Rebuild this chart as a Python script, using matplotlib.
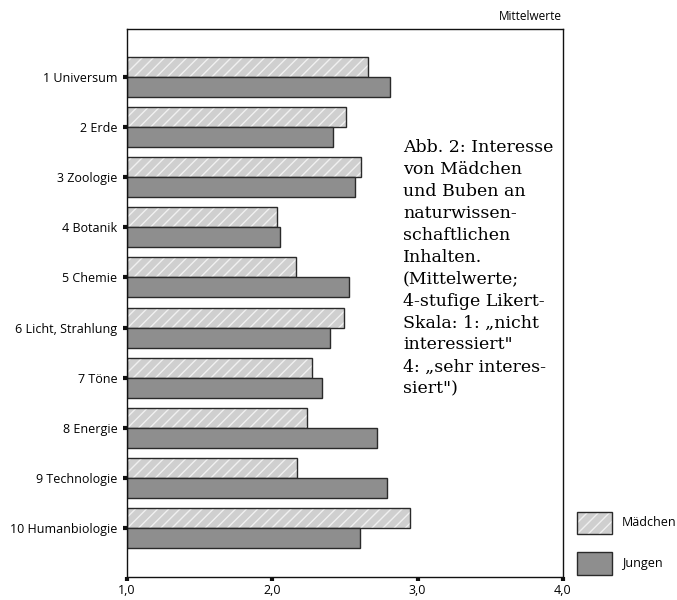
import matplotlib.pyplot as plt
from matplotlib.patches import Rectangle

# ── Data ────────────────────────────────────────────────
categories = ["1 Universum", "2 Erde", "3 Zoologie", "4 Botanik", "5 Chemie",
              "6 Licht, Strahlung", "7 Töne", "8 Energie", "9 Technologie",
              "10 Humanbiologie"]
maedchen = [2.66, 2.51, 2.61, 2.03, 2.16, 2.49, 2.27, 2.24, 2.17, 2.95]
jungen   = [2.81, 2.42, 2.57, 2.05, 2.53, 2.40, 2.34, 2.72, 2.79, 2.60]
xticks = [1.0, 2.0, 3.0, 4.0]
xticklabels = ["1,0", "2,0", "3,0", "4,0"]
legend_labels = ["Mädchen", "Jungen"]

caption = ("Abb. 2: Interesse\nvon Mädchen\nund Buben an\nnaturwissen-\n"
           "schaftlichen\nInhalten.\n(Mittelwerte;\n4-stufige Likert-\n"
           "Skala: 1: „nicht\ninteressiert\"\n4: „sehr interes-\nsiert\")")

sans = ["Open Sans", "DejaVu Sans"]
serif = ["DejaVu Serif"]
light = "#cfcfcf"
hatch_col = "#f0f0f0"
dark = "#8e8e8e"
edge = "#2a2a2a"

fig = plt.figure(figsize=(6.77, 6.0), dpi=100)
ax = fig.add_axes([127 / 677, 1 - 577 / 600, 436 / 677, 548 / 600])

pos = list(range(1, len(categories) + 1))
h = 0.4
m_y = [p - h / 2 for p in pos]
j_y = [p + h / 2 for p in pos]
m_w = [v - 1 for v in maedchen]
j_w = [v - 1 for v in jungen]

# hatched girls bars: fill + light hatch, then dark outline
ax.barh(m_y, m_w, height=h, left=1, color=light, edgecolor=hatch_col,
        hatch="///", linewidth=0)
ax.barh(m_y, m_w, height=h, left=1, fill=False, edgecolor=edge, linewidth=1.0)
ax.barh(j_y, j_w, height=h, left=1, color=dark, edgecolor=edge, linewidth=1.0)

ax.set_xlim(1, 4)
ax.set_ylim(10.98, 0.04)
ax.set_yticks(pos)
ax.set_yticklabels(categories, fontsize=9, family=sans)
ax.set_xticks(xticks)
ax.set_xticklabels(xticklabels, fontsize=9, family=sans)
ax.tick_params(axis="both", direction="out", length=3, width=3, color="#111111")
ax.tick_params(axis="y", pad=4)
ax.tick_params(axis="x", pad=2)
for s in ax.spines.values():
    s.set_linewidth(1.0)
    s.set_color("#111111")

fig.text(562 / 677, 1 - 17 / 600, "Mittelwerte", ha="right", va="center",
         fontsize=8.5, family=sans)

fig.text(403 / 677, 1 - 139 / 600, caption, ha="left", va="top",
         fontsize=12.5, family=serif, linespacing=1.38)

# legend
fig.patches.append(Rectangle((577 / 677, 1 - 534 / 600), 35 / 677, 22 / 600,
                             transform=fig.transFigure, facecolor=light,
                             edgecolor=hatch_col, hatch="///", linewidth=0))
fig.patches.append(Rectangle((577 / 677, 1 - 534 / 600), 35 / 677, 22 / 600,
                             transform=fig.transFigure, fill=False,
                             edgecolor=edge, linewidth=1.0))
fig.patches.append(Rectangle((577 / 677, 1 - 575 / 600), 35 / 677, 23 / 600,
                             transform=fig.transFigure, facecolor=dark,
                             edgecolor=edge, linewidth=1.0))
fig.text(622 / 677, 1 - 523 / 600, legend_labels[0], ha="left", va="center",
         fontsize=9, family=sans)
fig.text(622 / 677, 1 - 564 / 600, legend_labels[1], ha="left", va="center",
         fontsize=9, family=sans)

plt.savefig("out.png", dpi=100)
